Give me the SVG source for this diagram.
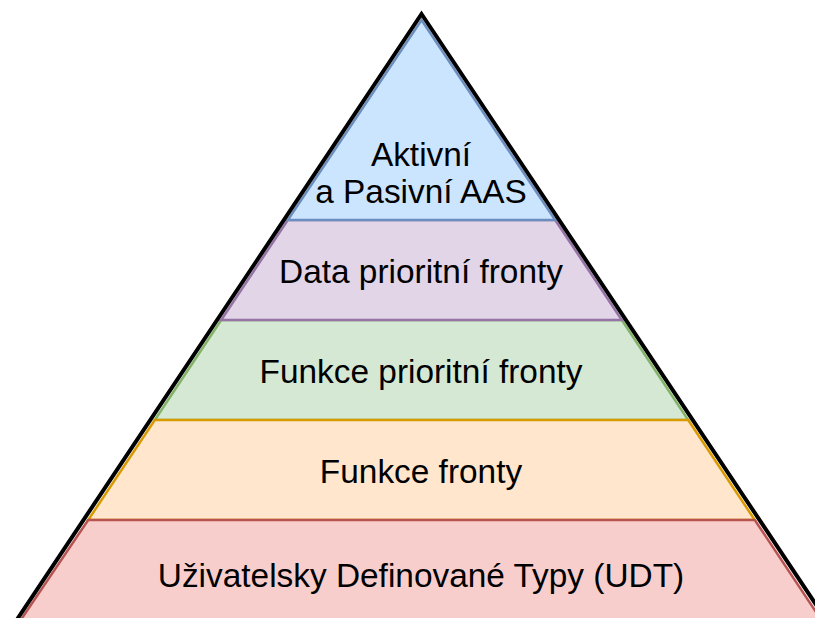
<svg xmlns="http://www.w3.org/2000/svg" width="815" height="618" viewBox="0 0 815 618">
  <style>
    .layer { stroke-width: 2.5; stroke-linejoin: miter; }
    .label { font-family: "Liberation Sans", Arial, Helvetica, sans-serif; font-size: 33.4px; fill: #000000; text-anchor: middle; }
  </style>
  <rect width="815" height="618" fill="#ffffff"/>

  <!-- pyramid layers, drawing order keeps shared edges in the right colour -->
  <g id="layer-funkce-prioritni-fronty">
    <polygon class="layer" points="221.2,320 621.8,320 688.2,420 154.8,420" fill="#d5e8d4" stroke="#82b366"/>
    <text class="label" x="421" y="383">Funkce prioritní fronty</text>
  </g>
  <g id="layer-data-prioritni-fronty">
    <polygon class="layer" points="287.8,220 555.2,220 621.8,320 221.2,320" fill="#e1d5e7" stroke="#9673a6"/>
    <text class="label" x="421" y="283">Data prioritní fronty</text>
  </g>
  <g id="layer-aktivni-pasivni-aas">
    <polygon class="layer" points="421.5,20 555.2,220 287.8,220" fill="#cce5ff" stroke="#6c8ebf"/>
    <text class="label" x="421" y="166">Aktivní</text>
    <text class="label" x="421" y="203">a Pasivní AAS</text>
  </g>
  <g id="layer-funkce-fronty">
    <polygon class="layer" points="154.8,420 688.2,420 754.8,520 88.2,520" fill="#ffe6cc" stroke="#d79b00"/>
    <text class="label" x="421" y="483">Funkce fronty</text>
  </g>
  <g id="layer-udt">
    <polygon class="layer" points="88.2,520 754.8,520 828,630 14,630" fill="#f8cecc" stroke="#b85450"/>
    <text class="label" x="421" y="587">Uživatelsky Definované Typy (UDT)</text>
  </g>

  <!-- outer pyramid outline -->
  <g id="connectors">
    <polyline points="14,624 421.5,14 829,624" fill="none" stroke="#000000" stroke-width="4" stroke-linejoin="miter"/>
  </g>
</svg>
